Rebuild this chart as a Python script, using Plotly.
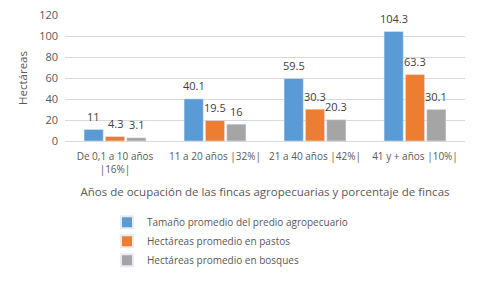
import plotly.graph_objects as go

categories = ["De 0,1 a 10 años<br>|16%|", "11 a 20 años |32%|", "21 a 40 años |42%|", "41 y + años |10%|"]
series_names = [
    "Tamaño promedio del predio agropecuario",
    "Hectáreas promedio en pastos",
    "Hectáreas promedio en bosques",
]
tamano = [11, 40.1, 59.5, 104.3]
pastos = [4.3, 19.5, 30.3, 63.3]
bosques = [3.1, 16, 20.3, 30.1]
y_ticks = [0, 20, 40, 60, 80, 100, 120]

colors = ["#5B9BD5", "#ED7D31", "#A5A5A5"]
font = "Open Sans"
series = [tamano, pastos, bosques]
bargap = 0.36

fig = go.Figure()
for name, vals, col in zip(series_names, series, colors):
    fig.add_trace(go.Bar(x=categories, y=vals, name=name, marker_color=col))

# data labels above each bar (offset within the group)
plot_w = 400
slot = plot_w / len(categories) * (1 - bargap) / len(series)
for i, vals in enumerate(series):
    for j, v in enumerate(vals):
        fig.add_annotation(
            x=j, y=v, xref="x", yref="y", text=f"{v:g}", showarrow=False,
            xshift=(i - 1) * slot, yshift=13, yanchor="middle",
            font=dict(size=11, color="#404040", family=font),
        )

fig.update_layout(
    width=479, height=287,
    margin=dict(l=57, r=22, t=7, b=154, autoexpand=False),
    paper_bgcolor="white", plot_bgcolor="white",
    barmode="group", bargap=bargap, bargroupgap=0.1,
    font=dict(family=font, size=10, color="#595959"),
    showlegend=True,
    legend=dict(
        x=0.105, y=-0.53, xanchor="left", yanchor="top",
        orientation="v", font=dict(size=10, color="#595959", family=font),
        itemsizing="constant", itemwidth=30, tracegroupgap=2,
        bgcolor="rgba(0,0,0,0)",
    ),
    xaxis=dict(
        type="category", range=[-0.5, 3.5],
        showgrid=False, showline=True, linecolor="#D9D9D9", automargin=False,
        ticks="outside", ticklen=6, tickcolor="rgba(0,0,0,0)", tickangle=0,
        tickfont=dict(size=10, color="#595959"),
        title=dict(text="Años de ocupación de las fincas agropecuarias y porcentaje de fincas",
                   font=dict(size=11.5, color="#595959"), standoff=12),
    ),
    yaxis=dict(
        range=[0, 120], tickvals=y_ticks, showgrid=True, gridcolor="#D9D9D9",
        zeroline=False, automargin=False, ticklabelstandoff=6,
        ticklabeloverflow="allow",
        tickfont=dict(size=11, color="#595959"),
        title=dict(text="Hectáreas", font=dict(size=11.5, color="#595959"), standoff=9),
    ),
)

fig.write_html("out.html")
